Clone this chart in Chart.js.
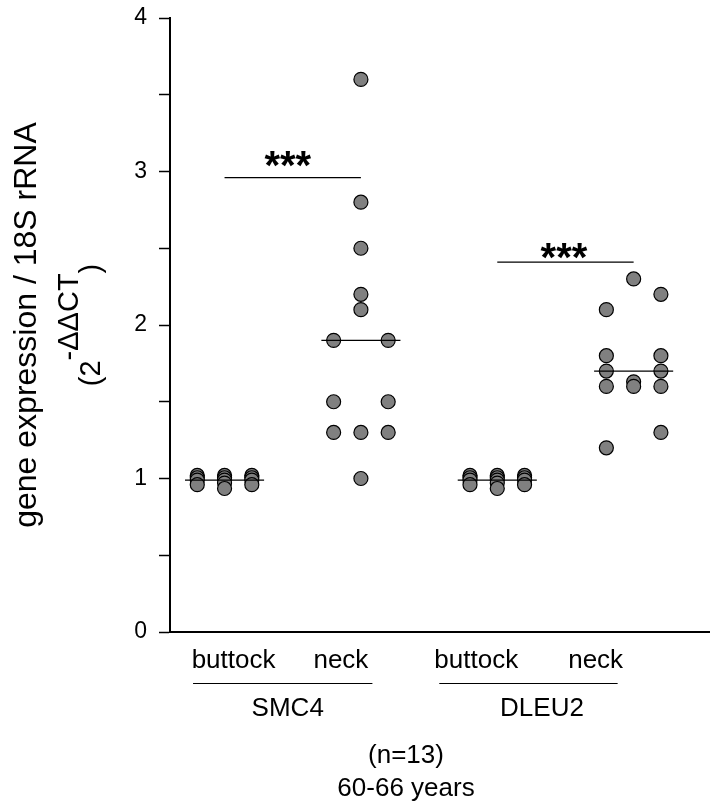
<!DOCTYPE html>
<html><head><meta charset="utf-8">
<script src="https://cdn.jsdelivr.net/npm/chart.js@4"></script>
<style>html,body{margin:0;padding:0;background:#fff;}canvas{display:block;}</style>
</head><body>
<canvas id="c" width="710" height="804"></canvas>
<script>
// ---------- data ----------
const categories = ['buttock', 'neck', 'buttock', 'neck'];
const genes = ['SMC4', 'DLEU2'];
const yTickLabels = ['0', '1', '2', '3', '4'];
const smc4Buttock    = [1.02, 1.005, 0.99, 0.96, 1.02, 1.005, 0.99, 0.97, 0.935, 1.02, 1.005, 0.99, 0.96];
const smc4ButtockCol = [-1, -1, -1, -1, 0, 0, 0, 0, 0, 1, 1, 1, 1];
const smc4Neck       = [3.6, 2.8, 2.5, 2.2, 2.1, 1.9, 1.9, 1.5, 1.5, 1.3, 1.3, 1.3, 1.0];
const smc4NeckCol    = [0, 0, 0, 0, 0, -1, 1, -1, 1, -1, 0, 1, 0];
const dleu2Buttock    = [1.02, 1.005, 0.99, 0.96, 1.02, 1.005, 0.99, 0.97, 0.935, 1.02, 1.005, 0.99, 0.96];
const dleu2ButtockCol = [-1, -1, -1, -1, 0, 0, 0, 0, 0, 1, 1, 1, 1];
const dleu2Neck       = [2.3, 2.2, 2.1, 1.8, 1.8, 1.7, 1.7, 1.63, 1.6, 1.6, 1.6, 1.3, 1.2];
const dleu2NeckCol    = [0, 1, -1, -1, 1, -1, 1, 0, 0, -1, 1, 1, -1];
const significance = [2.96, 2.41];
const sigLabels = ['***', '***'];
const footnote = ['(n=13)', '60-66 years'];
const yTitleLine1 = 'gene expression / 18S rRNA';
const yTitleBase = '(2', yTitleSup = '-ΔΔCT', yTitleEnd = ')';

// ---------- style ----------
const FONT = '"Liberation Sans", Arial, Helvetica, sans-serif';
const JITTER = 0.2, MED_HALF = 0.29;
const LABEL_SHIFT = [9, -20, -21, -38];
const GROUP_LINE = [[-31.5, 11.5], [-58, -16]];
const GROUP_SHIFT = [-5, -23.5];
const STAR_DX = [-5, -1.5], STAR_DY = [-18.5, -11.5];
const STAR_SIZE = 40;

function median(a) {
  const s = [...a].sort((p, q) => p - q), m = Math.floor(s.length / 2);
  return s.length % 2 ? s[m] : (s[m - 1] + s[m]) / 2;
}

const groups = [
  { vals: smc4Buttock, cols: smc4ButtockCol },
  { vals: smc4Neck, cols: smc4NeckCol },
  { vals: dleu2Buttock, cols: dleu2ButtockCol },
  { vals: dleu2Neck, cols: dleu2NeckCol }
];

const datasets = [];
groups.forEach((g, i) => {
  datasets.push({
    data: g.vals.map((v, k) => ({ x: i + 1 + g.cols[k] * JITTER, y: v })),
    pointRadius: 7, pointBackgroundColor: '#808080', pointBorderColor: '#000',
    pointBorderWidth: 1.2, showLine: false, order: 2
  });
  const m = median(g.vals);
  datasets.push({
    data: [{ x: i + 1 - MED_HALF, y: m }, { x: i + 1 + MED_HALF, y: m }],
    showLine: true, borderColor: '#000', borderWidth: 1.2, pointRadius: 0, order: 1
  });
});
significance.forEach((s, j) => {
  datasets.push({
    data: [{ x: 2 * j + 1, y: s }, { x: 2 * j + 2, y: s }],
    showLine: true, borderColor: '#000', borderWidth: 1.2, pointRadius: 0, order: 1
  });
});

const annot = {
  id: 'annot',
  afterDraw(chart) {
    const { ctx, chartArea: a, scales: { x, y } } = chart;
    ctx.save();
    ctx.fillStyle = '#000'; ctx.strokeStyle = '#000';
    ctx.textAlign = 'center'; ctx.textBaseline = 'alphabetic';
    ctx.font = `26px ${FONT}`;
    categories.forEach((c, i) => ctx.fillText(c, x.getPixelForValue(i + 1) + LABEL_SHIFT[i], a.bottom + 36));
    genes.forEach((g, j) => {
      const p1 = x.getPixelForValue(2 * j + 1), p2 = x.getPixelForValue(2 * j + 2);
      ctx.lineWidth = 1.2;
      ctx.beginPath();
      ctx.moveTo(p1 + GROUP_LINE[j][0], a.bottom + 51.5);
      ctx.lineTo(p2 + GROUP_LINE[j][1], a.bottom + 51.5);
      ctx.stroke();
      ctx.fillText(g, (p1 + p2) / 2 + GROUP_SHIFT[j], a.bottom + 84);
    });
    footnote.forEach((t, k) => ctx.fillText(t, a.left + 236, a.bottom + 131 + k * 33));
    // significance stars, glyph-centred
    ctx.font = `bold ${STAR_SIZE}px ${FONT}`;
    significance.forEach((s, j) => {
      const p1 = x.getPixelForValue(2 * j + 1), p2 = x.getPixelForValue(2 * j + 2);
      const cy = y.getPixelForValue(s) + STAR_DY[j];
      const m = ctx.measureText(sigLabels[j]);
      const asc = m.actualBoundingBoxAscent || 0.72 * STAR_SIZE;
      const desc = m.actualBoundingBoxDescent || -0.43 * STAR_SIZE;
      ctx.fillText(sigLabels[j], (p1 + p2) / 2 + STAR_DX[j], cy + (asc - desc) / 2);
    });
    // y title
    const midY = (a.top + a.bottom) / 2;
    ctx.save();
    ctx.translate(36, midY); ctx.rotate(-Math.PI / 2);
    ctx.font = `32px ${FONT}`; ctx.textAlign = 'center';
    ctx.fillText(yTitleLine1, 0, 0);
    ctx.restore();
    ctx.save();
    ctx.translate(100, midY); ctx.rotate(-Math.PI / 2);
    ctx.textAlign = 'left';
    const mainF = `29px ${FONT}`, supF = `29px ${FONT}`;
    ctx.font = mainF;
    const w1 = ctx.measureText(yTitleBase).width, w3 = ctx.measureText(yTitleEnd).width;
    ctx.font = supF;
    const w2 = ctx.measureText(yTitleSup).width;
    let xx = -(w1 + w2 + w3) / 2;
    ctx.font = mainF; ctx.fillText(yTitleBase, xx, 0); xx += w1;
    ctx.font = supF; ctx.fillText(yTitleSup, xx, -22); xx += w2;
    ctx.font = mainF; ctx.fillText(yTitleEnd, xx, 0);
    ctx.restore();
    ctx.restore();
  }
};

new Chart(document.getElementById('c'), {
  type: 'scatter',
  data: { datasets },
  options: {
    responsive: false, animation: false, devicePixelRatio: 1,
    layout: { autoPadding: false, padding: { top: 18, right: 0, left: 0, bottom: 0 } },
    plugins: { legend: { display: false }, tooltip: { enabled: false } },
    scales: {
      x: {
        type: 'linear', min: 0.6, max: 4.56,
        ticks: { display: false },
        grid: { display: false, drawTicks: false },
        border: { display: true, color: '#000', width: 2 },
        afterFit(s) { s.height = 172; s.paddingLeft = 0; s.paddingRight = 0; }
      },
      y: {
        type: 'linear', min: 0, max: 4,
        ticks: {
          stepSize: 0.5, padding: 12, color: '#000', autoSkip: false,
          font: { family: FONT, size: 23 },
          callback: (v) => Number.isInteger(v) ? yTickLabels[v] : ''
        },
        grid: { display: true, drawOnChartArea: false, drawTicks: true, tickLength: 11, tickColor: '#000', tickWidth: 1.5 },
        border: { display: true, color: '#000', width: 2 },
        afterFit(s) { s.width = 170; s.paddingTop = 0; s.paddingBottom = 0; }
      }
    }
  },
  plugins: [annot]
});
</script>
</body></html>
